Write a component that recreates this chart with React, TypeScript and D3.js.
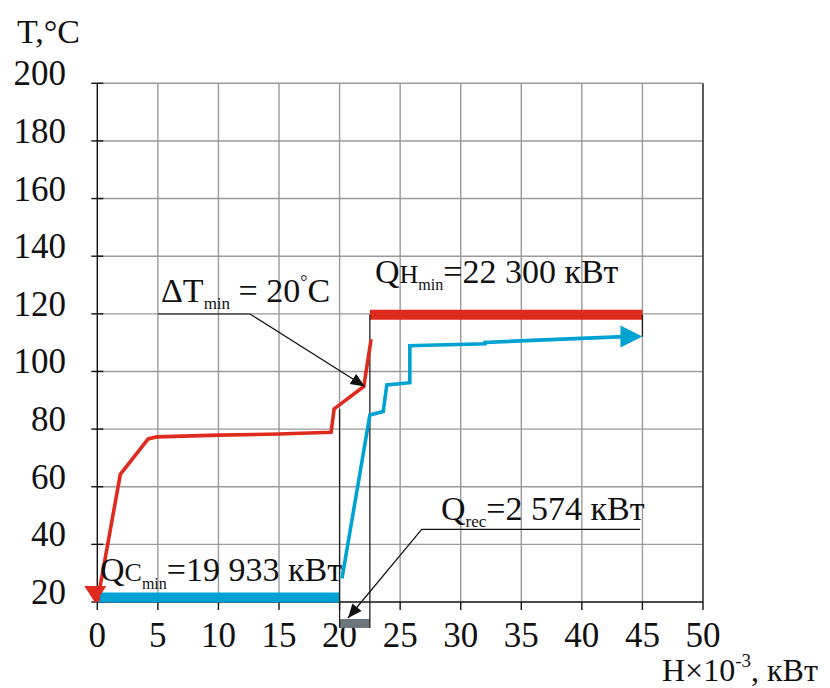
import React from "react";
import * as d3 from "d3";

const xTicks = [0, 5, 10, 15, 20, 25, 30, 35, 40, 45, 50];
const yTicks = [20, 40, 60, 80, 100, 120, 140, 160, 180, 200];

// hot composite curve (red)
const hotH = [0, 1.9, 4.2, 4.9, 10, 15, 19.3, 19.55, 22.0, 22.6];
const hotT = [20, 64.3, 76.6, 77.3, 77.9, 78.3, 78.9, 87.0, 94.8, 111.2];

// cold composite curve (blue)
const coldH = [20.2, 22.5, 23.6, 23.9, 25.8, 25.8, 32.0, 32.0, 45];
const coldT = [28.2, 84.9, 86.1, 95.3, 96.1, 108.9, 109.6, 110.1, 112.1];

// utility bars
const qHotMin = [22.5, 45];
const qHotT = 119.7;
const qColdMin = [0, 20];
const qColdT = 21.6;
const qRec = [20, 22.5];
const qRecT = [14.1, 11.0];

const FONT = "Liberation Serif";
const RED = "#df2a1e";
const BLUE = "#00a2d3";
const GRAY = "#6b757c";

function head(tx: number, ty: number, fx: number, fy: number, len: number, hw: number) {
  const dx = tx - fx, dy = ty - fy;
  const d = Math.hypot(dx, dy);
  const ux = dx / d, uy = dy / d;
  const bx = tx - ux * len, by = ty - uy * len;
  const px = -uy * hw, py = ux * hw;
  return `${tx},${ty} ${bx + px},${by + py} ${bx - px},${by - py}`;
}

export default function App() {
  const x = d3.scaleLinear().domain([0, 50]).range([97.3, 703]);
  const y = d3.scaleLinear().domain([20, 200]).range([602, 83.3]);

  const line = d3
    .line<[number, number]>()
    .x((d) => x(d[0]))
    .y((d) => y(d[1]));

  const hot: [number, number][] = hotH.map((h, i) => [h, hotT[i]]);
  const cold: [number, number][] = coldH.map((h, i) => [h, coldT[i]]);

  const x0 = x(0), x50 = x(50);
  const yBot = y(20), yTop = y(200);

  const dtTip: [number, number] = [x(hotH[8]) + 1, y(hotT[8])];
  const dtKnee: [number, number] = [250, 314];
  const recTip: [number, number] = [x(20.7), y(qRecT[0]) - 1];
  const recKnee: [number, number] = [421.7, 529.3];

  const coldEnd = cold[cold.length - 1];
  const blueArrowTip: [number, number] = [x(coldEnd[0]), y(coldEnd[1])];

  const ts = { fontFamily: FONT };

  return (
    <svg
      width={830}
      height={688}
      style={{ position: "absolute", left: 0, top: 0, background: "#fff", fontFamily: FONT }}
    >
      <rect width={830} height={688} fill="#fff" />
      {xTicks.filter((t) => t > 0).map((t) => (
        <line key={"gx" + t} x1={x(t)} x2={x(t)} y1={yTop} y2={yBot} stroke="#9a9a9a" strokeWidth={1.4} />
      ))}
      {yTicks.filter((t) => t > 20).map((t) => (
        <line key={"gy" + t} x1={x0} x2={x50} y1={y(t)} y2={y(t)} stroke="#9a9a9a" strokeWidth={1.4} />
      ))}
      <line x1={x50} x2={x50} y1={yTop} y2={yBot} stroke="#333" strokeWidth={1.4} />
      <line x1={x0} x2={x0} y1={yTop} y2={yBot} stroke="#111" strokeWidth={1.4} />
      <line x1={x0} x2={x50} y1={yBot} y2={yBot} stroke="#111" strokeWidth={1.4} />
      {yTicks.map((t) => (
        <g key={"ty" + t}>
          <line x1={x0 - 6} x2={x0 + 6} y1={y(t)} y2={y(t)} stroke="#111" strokeWidth={1.4} />
          <text x={66} y={y(t) + 2} textAnchor="end" fontSize={35} fill="#111" style={ts}>
            {t}
          </text>
        </g>
      ))}
      {xTicks.map((t) => (
        <g key={"tx" + t}>
          <line x1={x(t)} x2={x(t)} y1={yBot} y2={yBot + 8} stroke="#111" strokeWidth={1.4} />
          <text x={x(t)} y={647} textAnchor="middle" fontSize={35} fill="#111" style={ts}>
            {t}
          </text>
        </g>
      ))}

      <text x={17} y={43} fontSize={34} fill="#111" style={ts}>T,°C</text>
      <text x={662} y={681} fontSize={32} fill="#111" style={ts}>
        H×10<tspan dy={-14} fontSize={19}>-3</tspan>
        <tspan dy={14} fontSize={32}>, кВт</tspan>
      </text>

      <line x1={x(qHotMin[0])} x2={x(qHotMin[1])} y1={y(qHotT)} y2={y(qHotT)} stroke={RED} strokeWidth={10} />
      <line x1={x(qColdMin[0])} x2={x(qColdMin[1])} y1={y(qColdT)} y2={y(qColdT)} stroke={BLUE} strokeWidth={10} />
      <rect
        x={x(qRec[0])}
        y={y(qRecT[0])}
        width={x(qRec[1]) - x(qRec[0])}
        height={y(qRecT[1]) - y(qRecT[0])}
        fill={GRAY}
      />

      <line x1={x(20)} x2={x(20)} y1={y(hotT[7])} y2={y(qRecT[1])} stroke="#222" strokeWidth={1.3} />
      <line x1={x(22.5)} x2={x(22.5)} y1={y(qHotT)} y2={y(qRecT[1])} stroke="#222" strokeWidth={1.3} />
      <line x1={x(45)} x2={x(45)} y1={y(qHotT)} y2={y(coldEnd[1])} stroke="#222" strokeWidth={1.3} />

      <path d={line(hot) || ""} fill="none" stroke={RED} strokeWidth={3.6} />
      <path d={line(cold.slice(0, -1).concat([[coldEnd[0] - 1.5, coldEnd[1]]])) || ""} fill="none" stroke={BLUE} strokeWidth={3.6} />
      <polygon points={head(x(0) - 2, y(20) + 1, x(0) - 2, y(20) - 30, 17, 11)} fill={RED} />
      <polygon points={head(blueArrowTip[0], blueArrowTip[1], blueArrowTip[0] - 40, blueArrowTip[1], 22, 11)} fill={BLUE} />

      <polyline
        points={`158,314 ${dtKnee[0]},${dtKnee[1]} ${dtTip[0]},${dtTip[1]}`}
        fill="none"
        stroke="#111"
        strokeWidth={1.2}
      />
      <polygon points={head(dtTip[0], dtTip[1], dtKnee[0], dtKnee[1], 14, 6)} fill="#111" />
      <text x={161} y={302} fontSize={34} fill="#111" style={ts}>
        ΔT<tspan dy={7} fontSize={17}>min</tspan>
        <tspan dy={-7} fontSize={34}> = 20</tspan>
        <tspan dy={-14} fontSize={18}>°</tspan>
        <tspan dy={14} fontSize={34}>C</tspan>
      </text>

      <text x={375} y={283} fontSize={34} fill="#111" style={ts}>
        Q<tspan fontSize={26}>H</tspan>
        <tspan dy={7} fontSize={16}>min</tspan>
        <tspan dy={-7} fontSize={34}>=22 300 кВт</tspan>
      </text>

      <text x={100} y={581} fontSize={34} fill="#111" style={ts}>
        Q<tspan fontSize={26}>C</tspan>
        <tspan dy={8} fontSize={16}>min</tspan>
        <tspan dy={-8} fontSize={34}>=19 933 кВт</tspan>
      </text>

      <polyline
        points={`640,${recKnee[1]} ${recKnee[0]},${recKnee[1]} ${recTip[0]},${recTip[1]}`}
        fill="none"
        stroke="#111"
        strokeWidth={1.2}
      />
      <polygon points={head(recTip[0], recTip[1], recKnee[0], recKnee[1], 14, 6)} fill="#111" />
      <text x={441} y={520} fontSize={34} fill="#111" style={ts}>
        Q<tspan dy={7} fontSize={17}>rec</tspan>
        <tspan dy={-7} fontSize={34}>=2 574 кВт</tspan>
      </text>
    </svg>
  );
}
